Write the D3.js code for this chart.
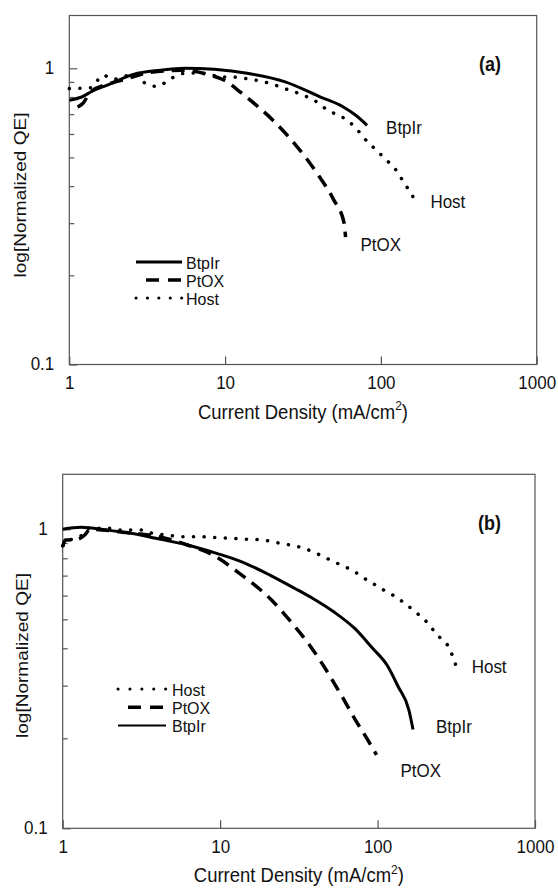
<!DOCTYPE html>
<html>
<head>
<meta charset="utf-8">
<script src="https://cdn.jsdelivr.net/npm/d3@7"></script>
<style>
body { margin: 0; background: #fff; }
text { font-family: "Liberation Sans", Arial, sans-serif; font-size: 17px; fill: #111; }
</style>
</head>
<body>
<svg id="chart"></svg>
<script>
// ---- data (current density in mA/cm2, normalized QE) ----
const xTicks = [1, 10, 100, 1000]
const yTicks = [0.1, 1]
const yMinor = [0.2, 0.3, 0.4, 0.5, 0.6, 0.7, 0.8, 0.9]

// panel (a)
const aBtpIrJ  = [1, 1.2, 1.42, 1.74, 2.58, 3.84, 5.5, 8.5, 14.2, 24.3, 41, 57, 69, 81.5]
const aBtpIrQE = [0.78, 0.80, 0.84, 0.876, 0.954, 0.985, 1.0, 0.992, 0.96, 0.90, 0.80, 0.742, 0.694, 0.642]
const aPtOXJ   = [1.13, 1.22, 1.37, 1.82, 2.39, 3.27, 5.26, 8.07, 9.9, 12.6, 15.9, 20.2, 25.6, 31.3, 39.9, 49.6, 58, 59.3]
const aPtOXQE  = [0.74, 0.76, 0.832, 0.888, 0.925, 0.969, 0.985, 0.947, 0.911, 0.829, 0.75, 0.669, 0.587, 0.517, 0.434, 0.361, 0.301, 0.269]
const aHostJ   = [1, 1.17, 1.37, 1.65, 1.93, 2.2, 2.58, 3.1, 3.64, 4.49, 5.26, 6.16, 7.61, 9.4, 11, 13.6, 15.9, 19.6, 24.2, 30, 38.9, 45.6, 56.4, 69.6, 77.6, 90.8, 109, 124, 138, 153, 169]
const aHostQE  = [0.854, 0.856, 0.86, 0.947, 0.918, 0.935, 0.954, 0.888, 0.869, 0.923, 0.959, 0.964, 0.959, 0.935, 0.935, 0.923, 0.911, 0.888, 0.854, 0.821, 0.769, 0.721, 0.685, 0.626, 0.583, 0.537, 0.489, 0.456, 0.418, 0.384, 0.353]

// panel (b)
const bBtpIrJ  = [1, 1.31, 1.89, 2.71, 3.9, 6.2, 9.5, 13.6, 20.7, 29.7, 38.6, 52.6, 71.6, 93, 115, 135, 158, 168]
const bBtpIrQE = [1.0, 1.015, 0.995, 0.97, 0.933, 0.886, 0.831, 0.78, 0.703, 0.635, 0.588, 0.53, 0.466, 0.40, 0.351, 0.298, 0.249, 0.214]
const bPtOXJ   = [1, 1.04, 1.24, 1.38, 1.49, 2.71, 4.1, 6.2, 9, 13.6, 21.2, 28.2, 37.6, 47.4, 58.3, 71.8, 88.4, 98.5]
const bPtOXQE  = [0.875, 0.921, 0.926, 0.957, 1.0, 0.97, 0.945, 0.886, 0.82, 0.705, 0.58, 0.49, 0.405, 0.337, 0.281, 0.232, 0.194, 0.176]
const bHostJ   = [1, 1.12, 1.38, 1.46, 1.99, 2.33, 2.71, 3.17, 3.7, 4.57, 5.63, 7.29, 8.98, 11.6, 15.1, 18.6, 24, 31.2, 38.6, 47.5, 58.4, 71.7, 79.3, 93, 109, 128, 149, 178, 209, 238, 278, 300, 318]
const bHostQE  = [0.88, 0.921, 0.97, 1.008, 1.008, 0.995, 0.995, 0.995, 0.97, 0.957, 0.945, 0.945, 0.94, 0.933, 0.926, 0.921, 0.898, 0.875, 0.842, 0.8, 0.76, 0.721, 0.694, 0.66, 0.627, 0.598, 0.565, 0.524, 0.485, 0.444, 0.41, 0.376, 0.344]

const legendA = ['BtpIr', 'PtOX', 'Host']
const legendB = ['Host', 'PtOX', 'BtpIr']

// ---- drawing ----
const W = 558, H = 890
const STRETCH = 'scale(1,1.12)'   // scanned glyphs are a bit taller than wide
const svg = d3.select('#chart').attr('width', W).attr('height', H)
svg.append('rect').attr('width', W).attr('height', H).attr('fill', '#fff')

const styles = {
    BtpIr: { width: 3, dash: null, cap: 'butt' },
    PtOX:  { width: 3.5, dash: '13,8', cap: 'butt' },
    Host:  { width: 3.5, dash: '0.1,10.5', cap: 'round' }
}

const panels = [
    {
        tag: '(a)', tagPos: [479, 71],
        left: 69.3, right: 536.7, top: 15.5, yOne: 68.3, yTenth: 364.5,
        ytitle: [26, 195],
        series: [
            { name: 'BtpIr', j: aBtpIrJ, qe: aBtpIrQE, lab: [19, 9] },
            { name: 'PtOX', j: aPtOXJ, qe: aPtOXQE, lab: [15, 14] },
            { name: 'Host', j: aHostJ, qe: aHostQE, lab: [14, 6] }
        ],
        legend: { names: legendA, x0: 136, x1: 182, tx: 186, y0: 262, dy: 18, solidW: 3, dotGap: 11.3 }
    },
    {
        tag: '(b)', tagPos: [478, 530],
        left: 62.7, right: 535, top: 474.3, yOne: 529.3, yTenth: 828.3,
        ytitle: [28, 655.5],
        series: [
            { name: 'Host', j: bHostJ, qe: bHostQE, lab: [15, 5] },
            { name: 'PtOX', j: bPtOXJ, qe: bPtOXQE, lab: [24, 22] },
            { name: 'BtpIr', j: bBtpIrJ, qe: bBtpIrQE, lab: [23, 3] }
        ],
        legend: { names: legendB, x0: 118, x1: 166, tx: 172, y0: 689, dy: 18.3, solidW: 2, dotGap: 11.8 }
    }
]

function label(g, x, y, s) {
    return g.append('text').attr('transform', `translate(${x},${y}) ${STRETCH}`).text(s)
}

function drawPanel(p) {
    const x = d3.scaleLog().domain([1, 1000]).range([p.left, p.right])
    const y = d3.scaleLog().domain([0.1, 1]).range([p.yTenth, p.yOne])
    const g = svg.append('g')

    // y ticks, inward
    const gyMinor = g.append('g').attr('transform', `translate(${p.left},0)`)
        .call(d3.axisLeft(y).tickValues(yMinor).tickSize(-5).tickFormat(''))
    const gy = g.append('g').attr('transform', `translate(${p.left},0)`)
        .call(d3.axisLeft(y).tickValues(yTicks).tickSize(-8).tickFormat(d3.format('')))
    gy.selectAll('text').attr('x', null).attr('dy', null)
        .attr('transform', `translate(-15,5) ${STRETCH}`)
    // x ticks, inward
    const gx = g.append('g').attr('transform', `translate(0,${p.yTenth})`)
        .call(d3.axisBottom(x).tickValues(xTicks).tickSize(-8).tickFormat(d3.format('d')))
    gx.selectAll('text').attr('y', null).attr('dy', null)
        .attr('transform', `translate(0,24.5) ${STRETCH}`)
    for (const a of [gyMinor, gy, gx]) {
        a.select('.domain').remove()
        a.selectAll('line').attr('stroke', '#555').attr('stroke-width', 1.2)
    }

    // frame
    g.append('rect')
        .attr('x', p.left).attr('y', p.top)
        .attr('width', p.right - p.left).attr('height', p.yTenth - p.top)
        .attr('fill', 'none').attr('stroke', '#555').attr('stroke-width', 1.2)

    // curves
    const line = d3.line().x(d => x(d[0])).y(d => y(d[1])).curve(d3.curveMonotoneX)
    for (const s of p.series) {
        const st = styles[s.name]
        const pts = d3.zip(s.j, s.qe)
        g.append('path').datum(pts)
            .attr('d', line)
            .attr('fill', 'none').attr('stroke', '#000')
            .attr('stroke-width', st.width)
            .attr('stroke-dasharray', st.dash)
            .attr('stroke-linecap', st.cap)
        const last = pts[pts.length - 1]
        label(g, x(last[0]) + s.lab[0], y(last[1]) + s.lab[1], s.name)
    }

    // legend
    const L = p.legend
    L.names.forEach((n, i) => {
        const ly = L.y0 + i * L.dy
        const st = styles[n]
        const x0 = n === 'PtOX' ? L.x0 + 10 : L.x0
        g.append('line')
            .attr('x1', x0).attr('x2', L.x1).attr('y1', ly).attr('y2', ly)
            .attr('stroke', '#000')
            .attr('stroke-width', n === 'BtpIr' ? L.solidW : (n === 'Host' ? 3 : 3.5))
            .attr('stroke-dasharray', n === 'PtOX' ? '13,9' : (n === 'Host' ? `0.1,${L.dotGap}` : null))
            .attr('stroke-linecap', st.cap)
        g.append('text').attr('x', L.tx).attr('y', ly + 6.5)
            .style('font-size', '16px').text(n)
    })

    // panel tag
    label(g, p.tagPos[0], p.tagPos[1], p.tag).attr('font-weight', 'bold').style('font-size', '18px')

    // axis titles
    const xt = g.append('text')
        .attr('text-anchor', 'middle')
        .style('font-size', '18.5px')
        .attr('transform', `translate(${(p.left + p.right) / 2},${p.yTenth + 54}) ${STRETCH}`)
    xt.append('tspan').text('Current Density (mA/cm')
    xt.append('tspan').attr('dy', -7.5).style('font-size', '12px').text('2')
    xt.append('tspan').attr('dy', 7.5).text(')')

    g.append('text')
        .attr('text-anchor', 'middle')
        .attr('transform', `translate(${p.ytitle[0]},${p.ytitle[1]}) rotate(-90) scale(1.12,1)`)
        .text('log[Normalized QE]')
}

panels.forEach(drawPanel)
</script>
</body>
</html>
